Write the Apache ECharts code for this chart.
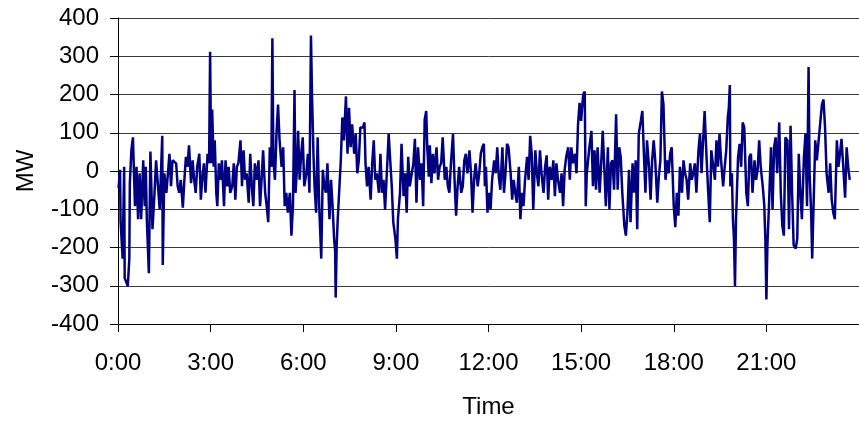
<!DOCTYPE html>
<html>
<head>
<meta charset="utf-8">
<script src="https://cdn.jsdelivr.net/npm/echarts@6/dist/echarts.min.js"></script>
<style>
html,body{margin:0;padding:0;background:#fff;}
#chart{width:859px;height:424px;}
</style>
</head>
<body>
<div id="chart"></div>
<script>
// Time of day in minutes since 0:00
var times = [1,4,5,9,12,13,19,22,23,26,29,33,36,39,42,45,49,52,54,56,60,63,67,71,74,81,86,87,90,94,100,103,106,113,116,119,122,126,129,132,135,138,142,145,148,151,154,158,161,164,167,170,174,177,179,181,183,186,188,191,193,196,199,202,206,209,212,215,218,222,225,228,231,234,
238,241,244,247,250,254,257,260,263,266,270,273,276,279,282,286,289,292,295,298,300,302,305,308,311,314,318,321,324,327,330,334,337,340,343,345,348,350,353,356,359,362,366,369,372,375,377,380,382,385,388,391,395,398,401,404,407,411,414,417,420,422,423,425,427,430,433,436,439,443,446,449,452,455,459,462,465,468,471,
476,479,481,484,487,491,494,497,500,503,507,510,513,516,519,523,526,529,532,535,539,542,544,546,548,551,555,558,561,564,567,571,574,577,580,583,587,590,593,596,599,601,604,606,609,612,615,619,622,625,628,631,635,638,641,644,647,651,654,657,660,663,667,670,673,676,679,683,686,689,692,695,699,702,705,708,711,
713,715,718,721,724,727,731,734,737,740,743,747,750,753,756,759,763,766,769,772,775,779,782,785,788,791,795,798,801,804,807,811,814,817,820,823,827,830,833,836,839,843,846,849,852,855,859,862,865,868,871,875,878,881,884,888,891,894,897,900,904,907,909,911,913,916,920,923,926,929,932,936,939,942,945,948,952,
953,955,958,961,964,968,971,974,977,980,984,987,990,993,996,1000,1003,1006,1009,1012,1016,1019,1022,1025,1028,1032,1035,1038,1041,1044,1048,1051,1054,1057,1060,1064,1067,1070,1073,1076,1080,1083,1086,1089,1092,1096,1099,1102,1105,1108,1112,1115,1118,1121,1124,1128,1131,1134,1137,1140,1144,1147,1150,1153,1156,1160,1163,1166,1169,1172,1176,1179,1182,1185,
1187,1189,1190,1193,1195,1197,1199,1201,1205,1208,1211,1214,1217,1221,1224,1227,1230,1233,1237,1240,1243,1246,1249,1253,1256,1258,1260,1262,1265,1269,1272,1275,1278,1281,1285,1288,1291,1294,1297,1301,1304,1307,1310,1313,1317,1320,1323,1326,1329,1333,1336,1339,1342,1344,1347,1349,1351,1353,1355,1358,1361,1365,1368,1371,1374,1377,1381,1384,1387,1390,1393,1397,1400,1403,1406,1409,1413,1416,1419,1422];

// Power deviation in MW, one value per entry of times
var mw = [-45,3,-130,-229,11,-280,-301,-229,-32,54,88,-92,11,-126,-6,-126,28,-92,11,-126,-267,51,-152,-57,28,-100,92,-246,-6,-57,45,-40,28,20,-40,-57,-23,-96,-23,37,11,67,-32,28,-23,-57,11,45,-75,-15,20,-57,45,20,312,20,161,11,80,-57,-92,20,-23,28,-92,28,-40,11,-57,-40,20,-75,11,20,
80,-40,54,-23,-6,-83,45,-40,-92,20,-23,28,-92,-23,54,-57,-92,-134,62,11,347,28,-23,97,174,80,11,62,-92,-57,-109,-57,-169,-92,212,-57,11,105,-23,45,88,-40,-6,45,-57,354,200,37,-40,-109,88,-92,-229,3,-40,-57,20,-126,-23,-92,-177,-211,-331,-194,-126,-49,28,140,80,195,45,165,62,122,45,97,-6,28,114,
114,127,20,-40,11,-75,20,80,-23,-6,-57,45,-57,-23,-101,11,97,101,-40,-134,-177,-229,-126,-92,-57,71,-66,-6,-109,37,-40,-6,20,84,-83,62,-23,20,-92,135,157,62,-15,67,-32,45,-6,62,-23,11,20,88,-23,11,-40,-57,20,97,-23,-117,-40,11,-57,-40,28,45,-6,54,-6,-109,-23,20,-40,-6,45,62,71,
-40,11,-109,-57,-101,-23,28,-6,62,-15,-49,62,-57,-6,71,62,-6,-75,-23,-57,-83,11,-126,-57,-92,-23,37,-23,92,45,-101,54,-6,-40,54,-6,-57,11,41,-75,11,-23,28,-66,20,-23,-57,-6,-92,3,37,62,-23,62,20,45,-6,122,178,131,200,208,-92,-6,20,62,105,-40,54,-49,62,-57,20,105,11,-92,62,
-6,-100,20,28,-49,148,-49,62,37,-57,-143,-169,-109,3,-134,20,-57,28,-152,97,131,157,45,-57,80,11,-75,28,80,28,-83,-15,28,208,174,-23,28,-6,45,62,-92,-147,-57,-117,11,-57,28,-6,-23,-75,20,-23,-6,20,-57,54,97,-6,80,157,28,-57,-134,54,20,-23,80,11,97,28,-40,11,54,140,
165,225,-40,-6,-126,-177,-301,-126,37,71,11,127,114,-57,-92,37,45,-57,28,-23,3,80,11,-40,-92,-177,-336,-194,-92,62,-100,62,88,-6,127,-57,-143,-169,88,80,-152,118,-57,-194,-203,-177,45,-57,-126,37,97,-92,272,-6,-109,-229,-229,-23,80,28,71,131,174,187,114,-6,-57,20,-75,-109,-126,80,11,45,84,20,-70,62,11,-23];

var timeLabels = ['0:00','3:00','6:00','9:00','12:00','15:00','18:00','21:00','24:00'];
var yMin = -400, yMax = 400, yStep = 100;
var xMax = 1440, xStep = 180;

var seriesData = times.map(function (t, i) { return [t, mw[i]]; });

var font = '"Liberation Sans", Arial, sans-serif';
var chart = echarts.init(document.getElementById('chart'), null, {renderer: 'canvas'});
chart.setOption({
  animation: false,
  backgroundColor: '#ffffff',
  grid: {left: 118, top: 18, width: 750, height: 311, containLabel: false},
  xAxis: {
    type: 'value',
    min: 0, max: xMax, interval: xStep,
    name: 'Time', nameLocation: 'middle', nameGap: 71,
    nameTextStyle: {fontFamily: font, fontSize: 24, color: '#000'},
    axisLine: {onZero: false, lineStyle: {color: '#000', width: 1}},
    axisTick: {show: true, length: 8, lineStyle: {color: '#000'}},
    axisLabel: {
      fontFamily: font, fontSize: 24, color: '#000', margin: 27,
      showMaxLabel: false,
      formatter: function (v) { return timeLabels[Math.round(v / xStep)]; }
    },
    splitLine: {show: false}
  },
  yAxis: {
    type: 'value',
    min: yMin, max: yMax, interval: yStep,
    name: 'MW', nameLocation: 'middle', nameGap: 80, nameRotate: 90,
    nameTextStyle: {fontFamily: font, fontSize: 24, color: '#000'},
    axisLine: {show: true, onZero: false, lineStyle: {color: '#000', width: 1}},
    axisTick: {show: true, length: 8, lineStyle: {color: '#000'}},
    axisLabel: {fontFamily: font, fontSize: 24, color: '#000', margin: 19},
    splitLine: {show: true, lineStyle: {color: '#3a3a3a', width: 1}}
  },
  series: [{
    type: 'line',
    data: seriesData,
    showSymbol: false,
    symbol: 'none',
    sampling: null,
    clip: true,
    lineStyle: {color: '#000080', width: 2.5},
    itemStyle: {color: '#000080'}
  }]
});
</script>
</body>
</html>
